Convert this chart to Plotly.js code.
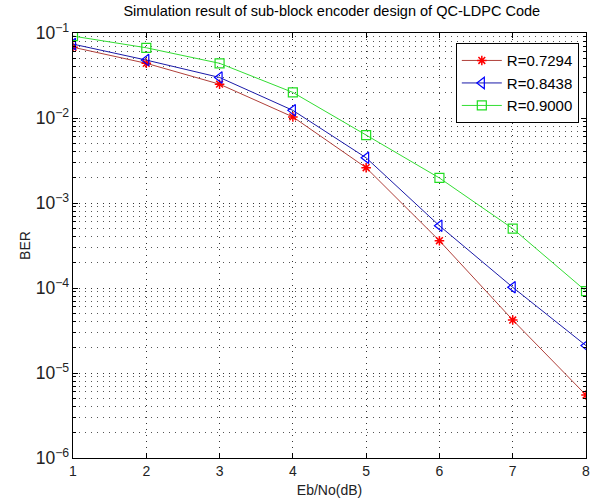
<!DOCTYPE html>
<html>
<head>
<meta charset="utf-8">
<script src="https://cdn.plot.ly/plotly-3.0.1.min.js"></script>
<style>html,body{margin:0;padding:0;background:#fff;}#chart{width:601px;height:504px;}</style>
</head>
<body>
<div id="chart"></div>
<script>
const ebno = [1, 2, 3, 4, 5, 6, 7, 8];
const berR07294 = [0.068, 0.044, 0.025, 0.0103, 0.0026, 0.00036, 0.000042, 0.0000055];
const berR08438 = [0.074, 0.048, 0.030, 0.0123, 0.0034, 0.00054, 0.000102, 0.000021];
const berR09000 = [0.092, 0.067, 0.044, 0.020, 0.0063, 0.00197, 0.00050, 0.000092];
const seriesNames = ["R=0.7294", "R=0.8438", "R=0.9000"];
const yRangeExp = [-6, -1];

const font = "Liberation Sans, Arial, sans-serif";
const dots = "1px,5px";

const traces = [
  {x: ebno, y: berR07294, name: seriesNames[0], mode: "lines+markers",
   line: {color: "#b0403a", width: 1},
   marker: {symbol: "asterisk-open", size: 8, color: "#ff0000", line: {color: "#ff0000", width: 1.5}}},
  {x: ebno, y: berR08438, name: seriesNames[1], mode: "lines+markers",
   line: {color: "#1a1aa8", width: 1},
   marker: {symbol: "triangle-left-open", size: 10, color: "#0000ff", line: {color: "#0000ff", width: 1.2}}},
  {x: ebno, y: berR09000, name: seriesNames[2], mode: "lines+markers",
   line: {color: "#33dd33", width: 1},
   marker: {symbol: "square-open", size: 9, color: "#22dd22", line: {color: "#22dd22", width: 1.2}}}
];

const layout = {
  width: 601, height: 504,
  paper_bgcolor: "#fff", plot_bgcolor: "#fff",
  margin: {l: 73, r: 15, t: 33, b: 46},
  font: {family: font, size: 13, color: "#000"},
  title: {text: "Simulation result of sub-block encoder design of QC-LDPC Code",
          font: {family: font, size: 14.5, color: "#000"}, x: 0.552, xanchor: "center", y: 0.988, yanchor: "top"},
  showlegend: true,
  legend: {x: 0.986, xanchor: "right", y: 0.976, yanchor: "top", bgcolor: "#fff",
           bordercolor: "#000", borderwidth: 1, font: {family: font, size: 15},
           tracegroupgap: 0, itemwidth: 40},
  xaxis: {
    range: [1, 8], dtick: 1, ticks: "inside", ticklen: 5, tickcolor: "#000",
    showline: true, linecolor: "#000", linewidth: 1, mirror: "ticks",
    showgrid: true, gridcolor: "#333", griddash: dots, gridwidth: 1,
    zeroline: false, tickfont: {family: font, size: 14, color: "#222"},
    title: {text: "Eb/No(dB)", font: {family: font, size: 14, color: "#222"}, standoff: 7}
  },
  yaxis: {
    type: "log", range: yRangeExp, dtick: 1, exponentformat: "power",
    ticks: "inside", ticklen: 5, tickcolor: "#000",
    showline: true, linecolor: "#000", linewidth: 1, mirror: "ticks",
    showgrid: true, gridcolor: "#333", griddash: dots, gridwidth: 1,
    minor: {dtick: "D1", ticks: "inside", ticklen: 3, tickcolor: "#000", showgrid: true, gridcolor: "#555", griddash: dots, gridwidth: 1},
    zeroline: false, tickfont: {family: font, size: 14, color: "#222"},
    title: {text: "BER", font: {family: font, size: 14, color: "#222"}, standoff: 1}
  }
};

Plotly.newPlot("chart", traces, layout, {displayModeBar: false, staticPlot: true});
</script>
</body>
</html>
